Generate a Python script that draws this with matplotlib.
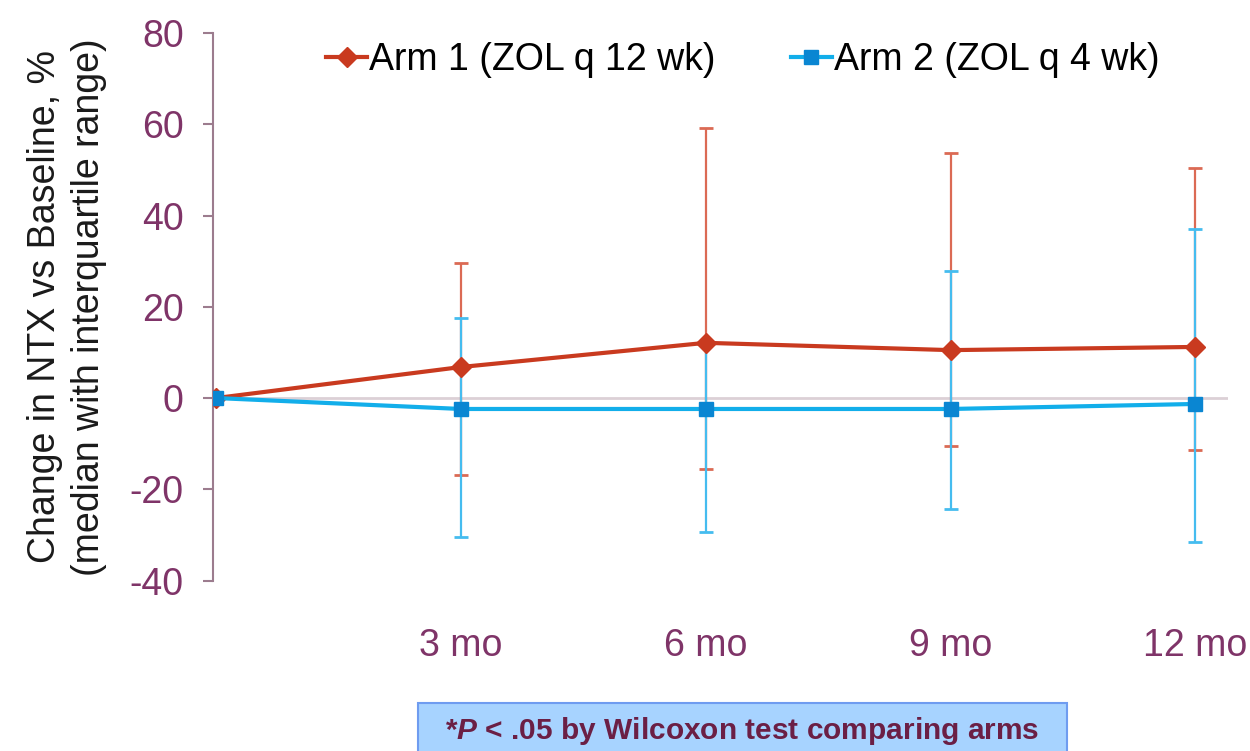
import numpy as np
import matplotlib
matplotlib.use('Agg')
from matplotlib import pyplot as plt
from matplotlib.patches import Rectangle

# ---------------- data ----------------
months = [0, 3, 6, 9, 12]
tick_labels = ['3 mo', '6 mo', '9 mo', '12 mo']

arm1_median = [0, 6.8, 12.1, 10.5, 11.2]
arm1_q1 = [0, -16.9, -15.6, -10.5, -11.4]
arm1_q3 = [0, 29.6, 59.2, 53.8, 50.4]

arm2_median = [0, -2.4, -2.4, -2.4, -1.3]
arm2_q1 = [0, -30.5, -29.3, -24.3, -31.5]
arm2_q3 = [0, 17.5, 12.0, 27.8, 37.0]

arm1_label = 'Arm 1 (ZOL q 12 wk)'
arm2_label = 'Arm 2 (ZOL q 4 wk)'
ylabel = 'Change in NTX vs Baseline, %\n(median with interquartile range)'
note = r'*$\mathbfit{P}$ < .05 by Wilcoxon test comparing arms'

# ---------------- style ----------------
plt.rcParams['font.family'] = ['Liberation Sans', 'DejaVu Sans']
plt.rcParams['mathtext.fontset'] = 'custom'
plt.rcParams['mathtext.bfit'] = 'Liberation Sans:italic:bold'
plt.rcParams['mathtext.rm'] = 'Liberation Sans'
plt.rcParams['axes.unicode_minus'] = False

RED = '#C93A1F'
RED_ERR = '#DB6A54'
BLUE = '#12AEEA'
BLUE_MK = '#0A86D2'
BLUE_ERR = '#45BCEF'
TICK_COL = '#7F3468'
SPINE_COL = '#9C7C8E'


def yerr(med, q1, q3):
    med = np.array(med)
    return np.vstack([med - np.array(q1), np.array(q3) - med])


fig = plt.figure(figsize=(12.5, 7.51), dpi=100)
ax = fig.add_axes([0.1704, 0.227, 0.812, 0.729])

ax.axhline(0, color='#DCD0D6', lw=2, zorder=1)

ax.errorbar(months, arm1_median, yerr=yerr(arm1_median, arm1_q1, arm1_q3),
            fmt='none', ecolor=RED_ERR, elinewidth=1.6, capsize=5, capthick=2, zorder=2)
ax.errorbar(months, arm2_median, yerr=yerr(arm2_median, arm2_q1, arm2_q3),
            fmt='none', ecolor=BLUE_ERR, elinewidth=1.6, capsize=5, capthick=2, zorder=3)

ax.plot(months, arm1_median, color=RED, lw=3, marker='D', ms=10.5,
        mfc=RED, mec=RED, label=arm1_label, zorder=4)
ax.plot(months, arm2_median, color=BLUE, lw=3, marker='s', ms=10.5,
        mfc=BLUE_MK, mec=BLUE_MK, label=arm2_label, zorder=5)

ax.set_xlim(-0.04, 12.4)
ax.set_ylim(-40, 80)
ax.set_yticks(np.arange(-40, 81, 20))
ax.set_xticks(months[1:])
ax.set_xticklabels(tick_labels)

for s in ['top', 'right', 'bottom']:
    ax.spines[s].set_visible(False)
ax.spines['left'].set_color(SPINE_COL)
ax.spines['left'].set_linewidth(1.5)

ax.tick_params(axis='y', colors=SPINE_COL, labelcolor=TICK_COL, labelsize=27,
               length=7, width=1.5, pad=14)
ax.tick_params(axis='x', length=0, labelcolor=TICK_COL, labelsize=27, pad=34)

ax.set_ylabel(ylabel, fontsize=27, color='#1a1a1a', labelpad=16, linespacing=1.3)

ax.legend(loc='upper center', bbox_to_anchor=(0.522, 1.045), ncol=2, frameon=False,
          fontsize=27, handlelength=1.1, handletextpad=0.05, columnspacing=2.0)

# note box at the bottom (runs off the edge like the original)
fig.patches.append(Rectangle((418 / 1250, -0.05), (1067 - 418) / 1250, 0.05 + 48 / 751,
                             transform=fig.transFigure, facecolor='#A7D3FF',
                             edgecolor='#6F9CF0', lw=1.5))
fig.text(742 / 1250, 1 - 731 / 751, note, ha='center', va='center',
         fontsize=21.5, fontweight='bold', color='#6B1F45')

fig.savefig('out.png', dpi=100)
